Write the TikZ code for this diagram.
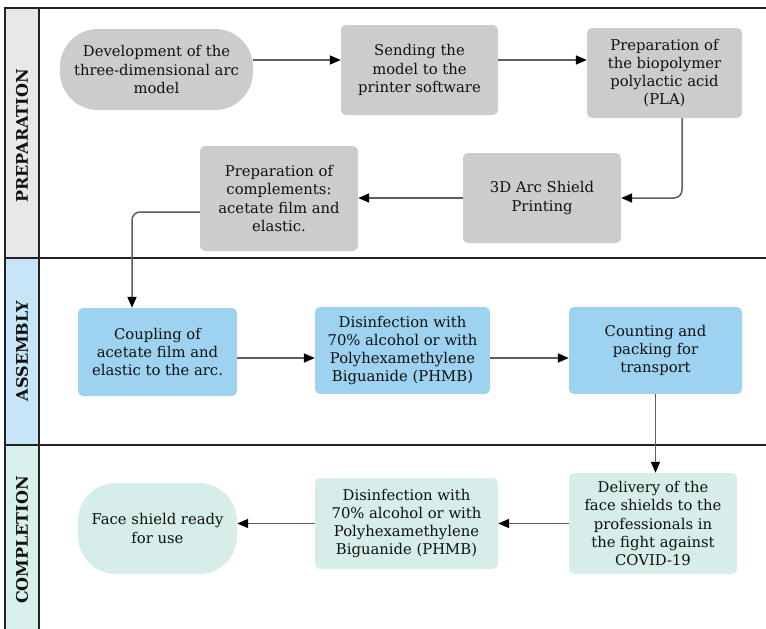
\documentclass[tikz,border=0pt]{standalone}
\usepackage{fontspec}
\setmainfont{DejaVu Serif}
\usetikzlibrary{arrows.meta,calc}
\definecolor{boxgray}{HTML}{CCCCCC}
\definecolor{boxblue}{HTML}{9DD2F1}
\definecolor{boxmint}{HTML}{D6EDE9}
\definecolor{lanegray}{HTML}{E8E8E8}
\definecolor{laneblue}{HTML}{C6E6F8}
\definecolor{lanemint}{HTML}{D8EFEB}
\definecolor{linegray}{HTML}{5E5E5E}
\definecolor{framecol}{HTML}{222222}
\definecolor{txt}{HTML}{111111}
\begin{document}
\begin{tikzpicture}[x=1pt,y=-1pt,
  box/.style={rounded corners=5pt, align=center, text=txt,
    font=\fontsize{14.8}{18.2}\selectfont, inner sep=0pt},
  graybox/.style={box, fill=boxgray},
  bluebox/.style={box, fill=boxblue},
  mintbox/.style={box, fill=boxmint},
  lanelabel/.style={rotate=90, font=\fontsize{16}{18}\selectfont\bfseries, text=txt, inner sep=0pt},
  conn/.style={draw=linegray, line width=1.5pt, rounded corners=8pt,
    -{Triangle[length=11pt,width=9pt,color=black]}},
  frame/.style={draw=framecol, line width=1.2pt}
]
\useasboundingbox (0,0) rectangle (766,629);
% lanes
\fill[lanegray] (5,8) rectangle (39,258);
\fill[laneblue] (5,258) rectangle (39,445);
\fill[lanemint] (5,445) rectangle (39,629);
\draw[frame] (5,629) -- (5,8) -- (766,8);
\draw[frame] (39,8) -- (39,629);
\draw[frame] (5,258) -- (766,258);
\draw[frame] (5,445) -- (766,445);
\node[lanelabel] (lp) at (22,136) {PREPARATION};
\node[lanelabel] (la) at (22,351) {ASSEMBLY};
\node[lanelabel] (lc) at (22,540) {COMPLETION};
% helper coordinates
\coordinate (y60) at (0,60);
\coordinate (x682) at (682,0);
\coordinate (y212) at (0,212);
\coordinate (x132) at (132,0);
\coordinate (y358) at (0,358);
% preparation
\node[graybox, rounded corners=38pt, minimum width=193pt, minimum height=81pt] (n1) at (156.5,69.5) {Development of the\\three-dimensional arc\\model};
\node[graybox, minimum width=157pt, minimum height=90pt] (n2) at (419.5,70) {Sending the\\model to the\\printer software};
\node[graybox, minimum width=155pt, minimum height=90pt] (n3) at (664.5,73) {Preparation of\\the biopolymer\\polylactic acid\\(PLA)};
\node[graybox, minimum width=158pt, minimum height=90pt] (n4) at (542,198) {3D Arc Shield\\Printing};
\node[graybox, minimum width=158pt, minimum height=105pt] (n5) at (279,198.5) {Preparation of\\complements:\\acetate film and\\elastic.};
% assembly
\node[bluebox, minimum width=159pt, minimum height=88pt] (n6) at (157.5,352) {Coupling of\\acetate film and\\elastic to the arc.};
\node[bluebox, minimum width=175pt, minimum height=87pt] (n7) at (402.5,350.5) {Disinfection with\\70\% alcohol or with\\Polyhexamethylene\\Biguanide (PHMB)};
\node[bluebox, minimum width=173pt, minimum height=87pt] (n8) at (655.5,350.5) {Counting and\\packing for\\transport};
% completion
\node[mintbox, rounded corners=38pt, minimum width=159pt, minimum height=91pt] (n9) at (157.5,528.5) {Face shield ready\\for use};
\node[mintbox, minimum width=183pt, minimum height=91pt] (n10) at (406.5,523.5) {Disinfection with\\70\% alcohol or with\\Polyhexamethylene\\Biguanide (PHMB)};
\node[mintbox, minimum width=168pt, minimum height=101pt] (n11) at (653,523.5) {Delivery of the\\face shields to the\\professionals in\\the fight against\\COVID-19};
% connectors
\draw[conn] (n1.east |- y60) -- (n2.west |- y60);
\draw[conn] (n2.east |- y60) -- (n3.west |- y60);
\draw[conn] (n3.south -| x682) |- (n4.east);
\draw[conn] (n4.west) -- (n5.east |- n4.west);
\draw[conn] (n5.west |- y212) -| (n6.north -| x132);
\draw[conn] (n6.east |- y358) -- (n7.west |- y358);
\draw[conn] (n7.east |- y358) -- (n8.west |- y358);
\draw[conn] (n8.south) -- (n8.south |- n11.north);
\draw[conn] (n11.west) -- (n10.east |- n11.west);
\draw[conn] (n10.west) -- (n9.east |- n10.west);
\end{tikzpicture}
\end{document}
